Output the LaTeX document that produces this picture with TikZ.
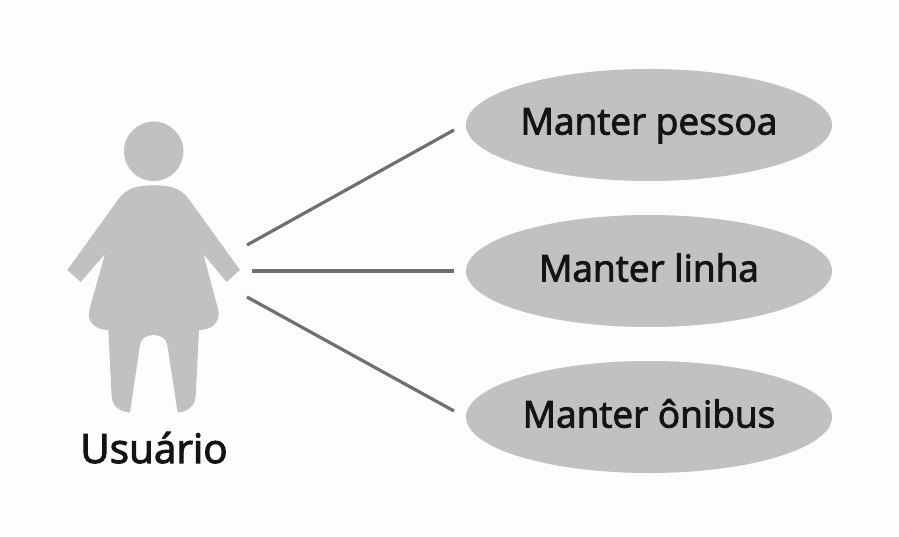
\documentclass[tikz,border=0pt]{standalone}
\usepackage{fontspec}
\setmainfont{Open Sans}
\newfontfamily\labelfont[FakeBold=2.5]{Open Sans}
\usetikzlibrary{shapes.geometric}
\definecolor{shapegray}{HTML}{C2C1C2}
\definecolor{linegray}{HTML}{6F6F6F}
\definecolor{inkblack}{HTML}{141414}
\definecolor{paper}{HTML}{FDFDFD}
\newcommand{\baselabel}[2]{\smash{\raisebox{-#1pt}{#2}}}
\tikzset{
  usecase/.style={ellipse,fill=shapegray,minimum width=366pt,minimum height=112pt,inner sep=0pt,font=\labelfont\fontsize{37}{40}\selectfont,text=inkblack},
  actorlabel/.style={font=\labelfont\fontsize{40.5}{44}\selectfont,text=inkblack,inner sep=0pt},
  assoc/.style={draw=linegray,line width=3.2pt},
  actorpart/.style={fill=shapegray}
}
\begin{document}
\begin{tikzpicture}[x=1pt,y=-1pt]
\useasboundingbox[fill=paper] (0,0) rectangle (899,537);
\node[usecase] (pessoa) at (649,125) {\baselabel{9.5}{Manter pessoa}};
\node[usecase] (linha) at (649,271) {\baselabel{10.5}{Manter linha}};
\node[usecase] (onibus) at (649,417) {\baselabel{10.5}{Manter ônibus}};
\node[actorlabel] (usuario) at (154,449) {\baselabel{14}{Usuário}};
\node[circle,actorpart,minimum size=59.4pt,inner sep=0pt] (head) at (153.7,151.3) {};
\begin{scope}[shift={(50,110)},x=0.3333pt,y=-0.3333pt]
\fill[actorpart] (311,226) .. controls (270,226) and (232,230) .. (205,268)
 -- (52,480) -- (92,516) -- (165,432)
 -- (118,600) .. controls (110,635) and (135,660) .. (175,660)
 -- (185,860) .. controls (188,890) and (210,905) .. (240,908)
 -- (270,705) .. controls (275,665) and (347,665) .. (352,705)
 -- (383,908) .. controls (412,905) and (434,890) .. (437,860)
 -- (447,660) .. controls (487,660) and (512,635) .. (505,600)
 -- (460,432) -- (530,516) -- (570,480)
 -- (417,268) .. controls (390,230) and (352,226) .. (311,226) -- cycle;
\end{scope}
\coordinate (a1) at (247,245);
\coordinate (a2) at (252,271);
\coordinate (a3) at (247,297);
\coordinate (e1) at (454,130);
\coordinate (e2) at (454,271);
\coordinate (e3) at (454,411);
\draw[assoc] (a1) -- (e1);
\draw[assoc] (a2) -- (e2);
\draw[assoc] (a3) -- (e3);
\end{tikzpicture}
\end{document}
